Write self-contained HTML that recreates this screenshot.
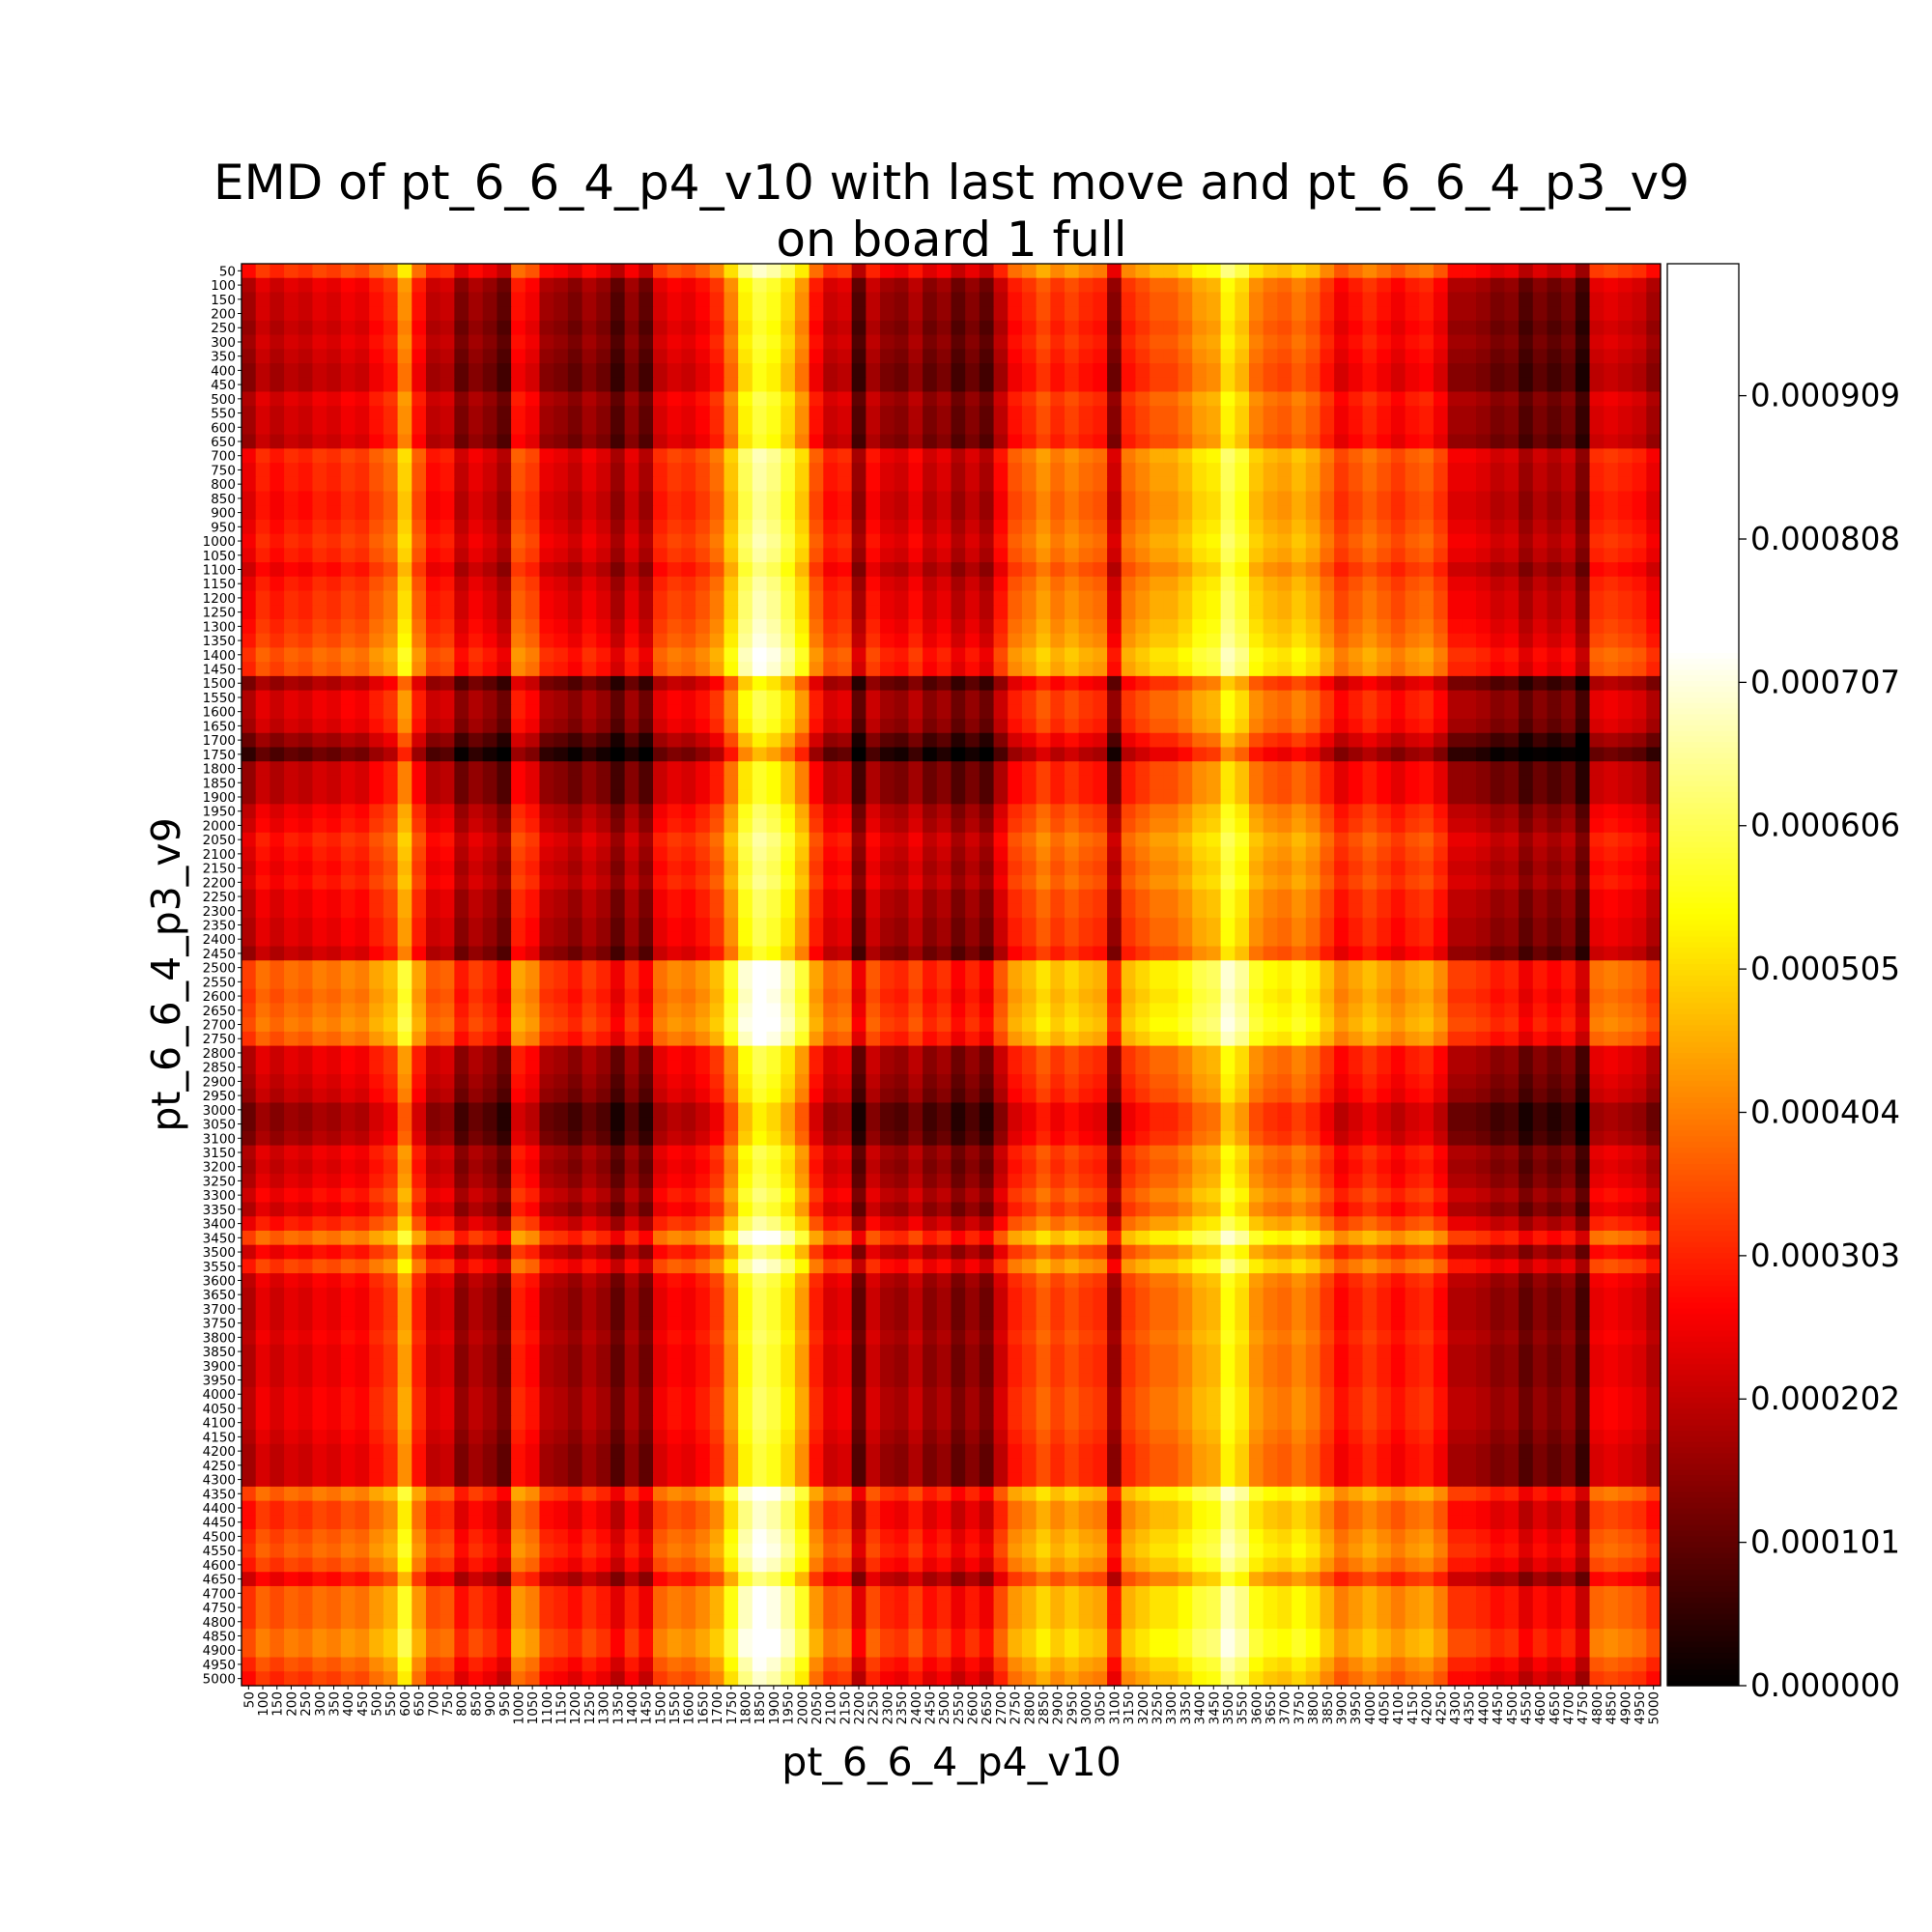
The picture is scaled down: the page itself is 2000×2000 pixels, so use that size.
<!DOCTYPE html>
<html><head><meta charset="utf-8">
<style>
html,body{margin:0;padding:0;background:#fff;}
svg{display:block;font-family:"DejaVu Sans","Liberation Sans",sans-serif;}
</style></head>
<body>
<svg id="chart" width="2000" height="2000" viewBox="0 0 2000 2000">
<text x="985" y="206" font-size="50" text-anchor="middle">EMD of pt_6_6_4_p4_v10 with last move and pt_6_6_4_p3_v9</text>
<text x="985" y="265" font-size="50" text-anchor="middle">on board 1 full</text>
<g id="cells"></g>
<g id="xticks"></g>
<g id="yticks"></g>
<g id="cbar"></g>
<text x="985" y="1838" font-size="41" text-anchor="middle">pt_6_6_4_p4_v10</text>
<text transform="translate(186,1009) rotate(-90)" font-size="41" text-anchor="middle">pt_6_6_4_p3_v9</text>
</svg>
<script>
// per-column mean EMD (x1e-4), columns 50..5000
const colMeans = [2.6,3.0,2.8,3.0,2.9,3.1,3.0,3.2,3.1,3.4,3.6,4.4,3.4,2.8,2.9,2.3,2.6,2.4,2.1,3.4,3.2,2.6,2.5,2.3,2.6,2.4,2.0,2.5,2.1,3.0,3.2,3.1,3.3,3.6,4.3,5.2,5.6,5.4,5.0,4.4,3.4,2.9,3.0,2.0,2.8,2.5,2.4,2.7,2.3,2.5,2.1,2.4,2.1,2.8,3.4,3.6,3.9,3.6,3.8,3.6,3.5,2.4,3.6,3.8,4.0,4.0,4.2,4.5,4.6,5.2,4.9,4.3,4.1,4.0,4.2,4.0,3.6,3.2,3.4,3.6,3.4,3.2,3.4,3.5,3.2,2.6,2.6,2.5,2.3,2.4,2.0,2.3,2.1,2.3,1.8,3.0,3.1,3.0,2.9,2.6];
// per-row mean EMD (x1e-4), rows 50..5000
const rowMeans = [3.4,2.8,2.7,2.7,2.6,2.7,2.6,2.5,2.5,2.8,2.7,2.7,2.6,3.3,3.2,3.2,3.1,3.1,3.2,3.3,3.2,3.0,3.2,3.3,3.3,3.4,3.5,3.7,3.6,2.4,2.8,2.8,2.7,2.3,1.9,2.6,2.6,2.6,2.9,3.0,3.2,3.1,3.0,3.1,2.9,2.9,2.8,2.8,2.6,3.8,3.8,3.7,3.8,3.9,3.7,2.8,2.8,2.7,2.6,2.3,2.3,2.4,2.8,2.7,2.8,3.0,2.8,3.2,3.8,3.0,3.5,2.9,2.8,2.8,2.8,2.9,2.8,2.8,2.8,2.9,2.9,2.9,2.8,2.7,2.7,2.7,3.8,3.4,3.4,3.6,3.7,3.5,3.0,3.7,3.7,3.7,3.9,3.9,3.6,3.4];
const grandMean = 3.0;
const baseLevel = 2.7;
const xLabels = Array.from({length:100},(_, i)=>String((i+1)*50));
const yLabels = Array.from({length:100},(_, i)=>String((i+1)*50));
const cbarTicks = [0,0.000101,0.000202,0.000303,0.000404,0.000505,0.000606,0.000707,0.000808,0.000909];
const vmax = 0.001002;
const whiteAt = 0.00073;

const NS="http://www.w3.org/2000/svg";
const X0=250,X1=1719,Y0=273,Y1=1745;
const nC=colMeans.length,nR=rowMeans.length;
const cw=(X1-X0)/nC, rh=(Y1-Y0)/nR;
const xs=j=>X0+j*cw, ys=i=>Y0+i*rh;
function hot(v){let t=v/whiteAt;t=Math.max(0,Math.min(1,t));
 const r=Math.min(1,t/0.365),g=Math.max(0,Math.min(1,(t-0.365)/0.381)),b=Math.max(0,Math.min(1,(t-0.746)/0.254));
 return `rgb(${Math.round(r*255)},${Math.round(g*255)},${Math.round(b*255)})`;}
function mk(tag,attrs,parent){const e=document.createElementNS(NS,tag);for(const k in attrs)e.setAttribute(k,attrs[k]);parent.appendChild(e);return e;}
const cells=document.getElementById('cells');
for(let i=0;i<nR;i++)for(let j=0;j<nC;j++){
 const v=(baseLevel+1.5*(rowMeans[i]-grandMean)+1.4*(colMeans[j]-grandMean))*1e-4;
 const r=mk('rect',{x:xs(j).toFixed(2),y:ys(i).toFixed(2),width:(cw+0.6).toFixed(2),height:(rh+0.6).toFixed(2),fill:hot(v)},cells);
 
 
}
mk('rect',{x:X0,y:Y0,width:X1-X0,height:Y1-Y0,fill:'none',stroke:'#000','stroke-width':1.3},cells);
const xt=document.getElementById('xticks');
xLabels.forEach((l,j)=>{const cx=xs(j)+cw/2;
 mk('line',{x1:cx,y1:Y1,x2:cx,y2:Y1+4,stroke:'#000','stroke-width':1},xt);
 const t=mk('text',{transform:`translate(${cx+5},${Y1+6}) rotate(-90)`,'font-size':13.5,'text-anchor':'end'},xt);t.textContent=l;
 
 });
const yt=document.getElementById('yticks');
yLabels.forEach((l,i)=>{const cy=ys(i)+rh/2;
 mk('line',{x1:X0-4,y1:cy,x2:X0,y2:cy,stroke:'#000','stroke-width':1},yt);
 const t=mk('text',{x:X0-6,y:cy+5,'font-size':13.5,'text-anchor':'end'},yt);t.textContent=l;
 
 });
const cb=document.getElementById('cbar');
const CX0=1726,CX1=1800;
for(let k=0;k<256;k++){const y=Y1-(k+1)*(Y1-Y0)/256;
 mk('rect',{x:CX0,y:y.toFixed(2),width:CX1-CX0,height:((Y1-Y0)/256+0.6).toFixed(2),fill:hot((k+0.5)/256*vmax)},cb);}
mk('rect',{x:CX0,y:Y0,width:CX1-CX0,height:Y1-Y0,fill:'none',stroke:'#000','stroke-width':1.3},cb);
cbarTicks.forEach(v=>{const y=Y1-v/vmax*(Y1-Y0);
 mk('line',{x1:CX1,y1:y,x2:CX1+8,y2:y,stroke:'#000','stroke-width':1.3},cb);
 const t=mk('text',{x:CX1+12,y:y+11,'font-size':32.5},cb);t.textContent=v.toFixed(6);
 
 });
</script>
</body></html>
